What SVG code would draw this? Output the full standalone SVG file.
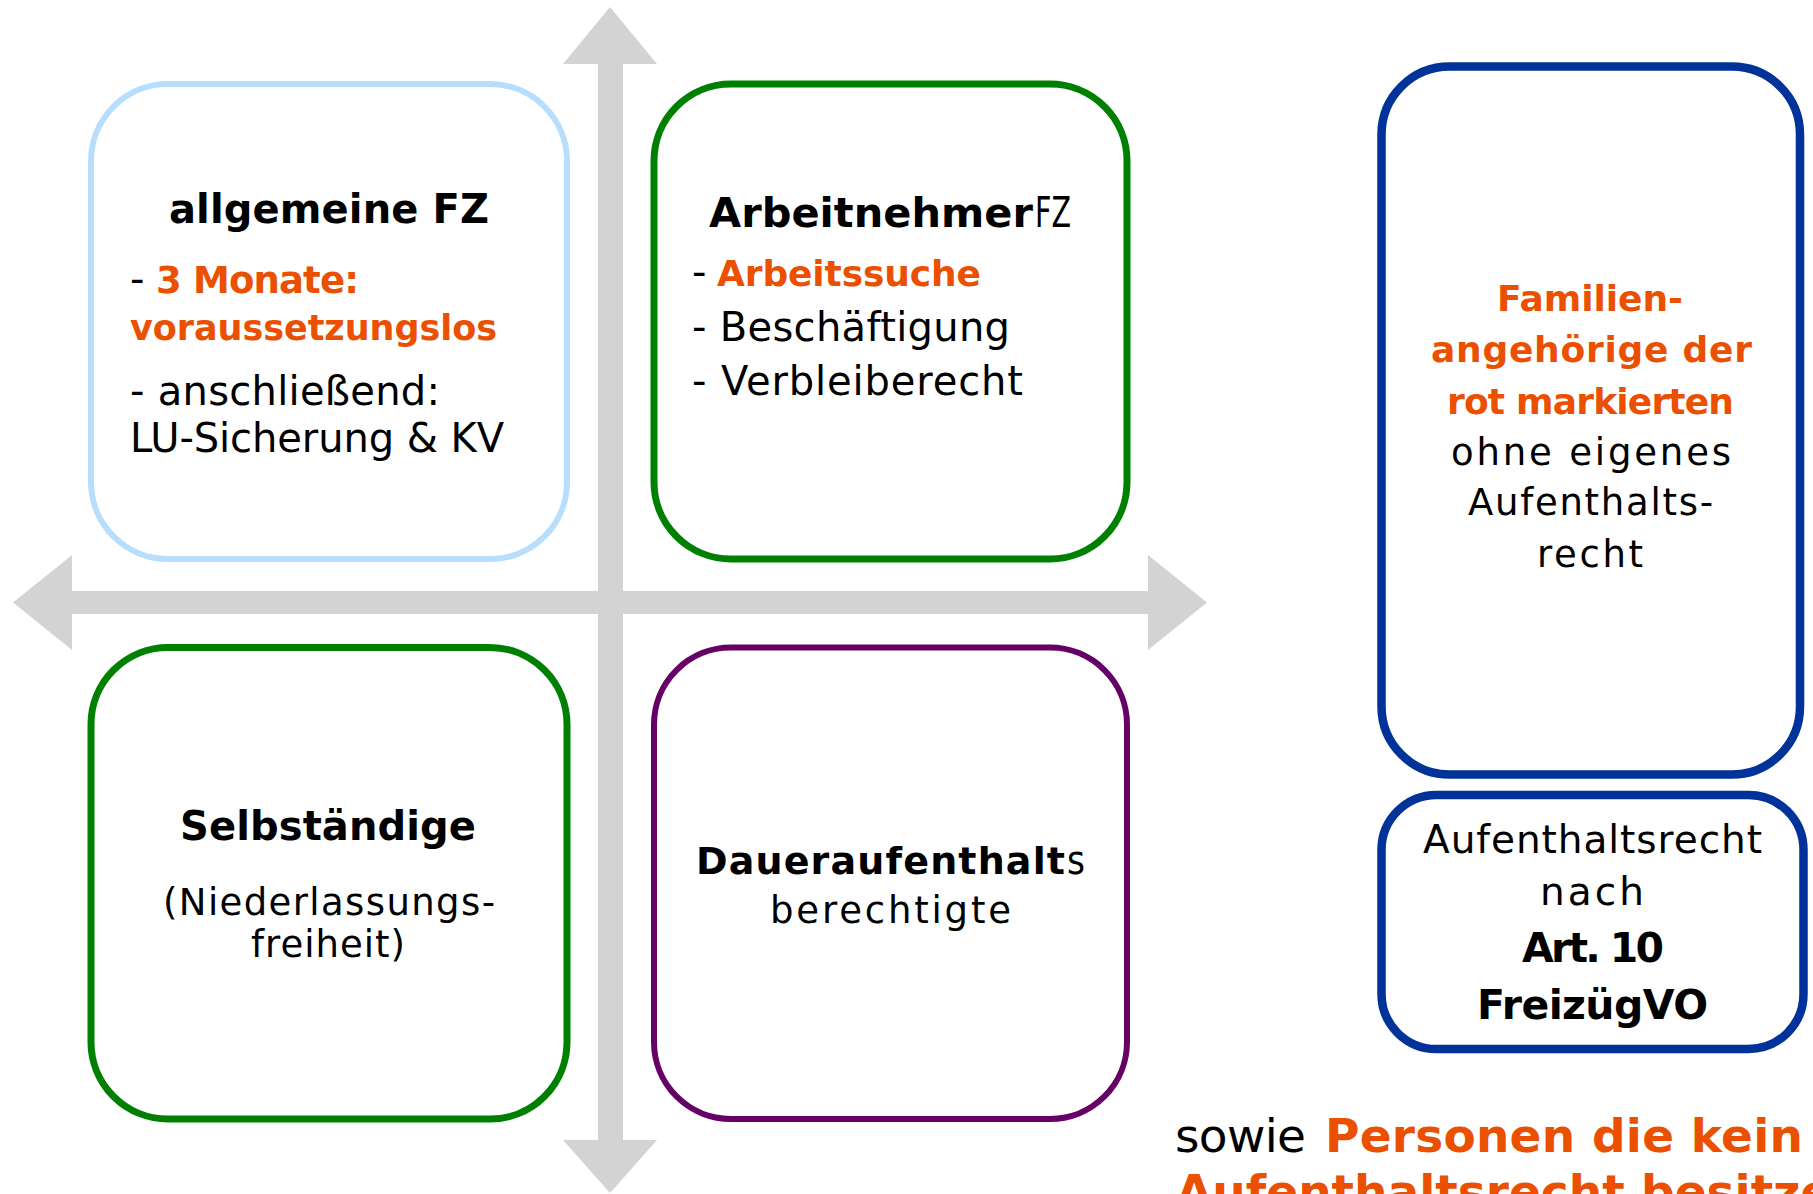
<svg xmlns="http://www.w3.org/2000/svg" width="1813" height="1194" viewBox="0 0 1813 1194">
  <style>
    .t { font-family: "DejaVu Sans", "Liberation Sans", sans-serif; fill: #000; }
    .b { font-weight: bold; }
    .o { fill: #ea5000; }
    .box { fill: #fff; }
    .axis { fill: #d3d3d3; }
  </style>
  <rect width="1813" height="1194" fill="#fff"/>

  <!-- crossed double-headed axes -->
  <g id="axes">
    <polygon class="axis" points="13,602.5 72,555 72,591 1148,591 1148,555 1207,602.5 1148,650 1148,614 72,614 72,650"/>
    <polygon class="axis" points="610,7 657,64 623,64 623,1140 657,1140 610,1193 563,1140 598,1140 598,64 563,64"/>
  </g>

  <!-- top-left quadrant -->
  <g id="allgemeine-fz">
    <rect class="box" x="91" y="84" width="476" height="475" rx="77" stroke="#b8defd" stroke-width="6"/>
    <text class="t b" x="169" y="223" font-size="40" textLength="320" lengthAdjust="spacing">allgemeine FZ</text>
    <text class="t" x="130" y="293" font-size="40">-</text>
    <text class="t b o" x="156" y="293" font-size="37" textLength="203" lengthAdjust="spacing">3 Monate:</text>
    <text class="t b o" x="130" y="340" font-size="35" textLength="367" lengthAdjust="spacing">voraussetzungslos</text>
    <text class="t" x="130" y="405" font-size="40" textLength="310" lengthAdjust="spacing">- anschließend:</text>
    <text class="t" x="130" y="452" font-size="40" textLength="374" lengthAdjust="spacing">LU-Sicherung &amp; KV</text>
  </g>

  <!-- top-right quadrant -->
  <g id="arbeitnehmer-fz">
    <rect class="box" x="654" y="84" width="473" height="475" rx="77" stroke="#008000" stroke-width="7"/>
    <text class="t b" x="709" y="227" font-size="41.5" textLength="324" lengthAdjust="spacing">Arbeitnehmer</text>
    <text class="t" x="1035" y="227" font-size="43" textLength="36" lengthAdjust="spacingAndGlyphs">FZ</text>
    <text class="t" x="692" y="286" font-size="40">-</text>
    <text class="t b o" x="717" y="286" font-size="36" textLength="264" lengthAdjust="spacing">Arbeitssuche</text>
    <text class="t" x="692" y="341" font-size="40" textLength="318" lengthAdjust="spacing">- Beschäftigung</text>
    <text class="t" x="692" y="395" font-size="40" textLength="331" lengthAdjust="spacing">- Verbleiberecht</text>
  </g>

  <!-- bottom-left quadrant -->
  <g id="selbstaendige">
    <rect class="box" x="91" y="647.5" width="476" height="471.5" rx="77" stroke="#008000" stroke-width="7"/>
    <text class="t b" x="180" y="840" font-size="40" textLength="296" lengthAdjust="spacing">Selbständige</text>
    <text class="t" x="163" y="915" font-size="37" textLength="332" lengthAdjust="spacing">(Niederlassungs-</text>
    <text class="t" x="251" y="957" font-size="37" textLength="154" lengthAdjust="spacing">freiheit)</text>
  </g>

  <!-- bottom-right quadrant -->
  <g id="daueraufenthalt">
    <rect class="box" x="654" y="647.5" width="473" height="471.5" rx="77" stroke="#660066" stroke-width="6"/>
    <text class="t b" x="696" y="874" font-size="38" textLength="369" lengthAdjust="spacing">Daueraufenthalt</text>
    <text class="t" x="1067" y="874" font-size="40" textLength="18" lengthAdjust="spacingAndGlyphs">s</text>
    <text class="t" x="770" y="923" font-size="37" textLength="241" lengthAdjust="spacing">berechtigte</text>
  </g>

  <!-- family members column -->
  <g id="familienangehoerige">
    <rect class="box" x="1381.5" y="66.5" width="418.5" height="708" rx="68" stroke="#003399" stroke-width="8.5"/>
    <text class="t b o" x="1497" y="311" font-size="36" textLength="186" lengthAdjust="spacing">Familien-</text>
    <text class="t b o" x="1431" y="362" font-size="36" textLength="321" lengthAdjust="spacing">angehörige der</text>
    <text class="t b o" x="1447" y="414" font-size="36" textLength="287" lengthAdjust="spacing">rot markierten</text>
    <text class="t" x="1451" y="465" font-size="37" textLength="280" lengthAdjust="spacing">ohne eigenes</text>
    <text class="t" x="1468" y="515" font-size="37" textLength="245" lengthAdjust="spacing">Aufenthalts-</text>
    <text class="t" x="1537" y="567" font-size="37" textLength="106" lengthAdjust="spacing">recht</text>
  </g>

  <g id="art10">
    <rect class="box" x="1381.5" y="795" width="422" height="254" rx="55" stroke="#003399" stroke-width="8.5"/>
    <text class="t" x="1423" y="853" font-size="39" textLength="339" lengthAdjust="spacing">Aufenthaltsrecht</text>
    <text class="t" x="1540" y="905" font-size="39" textLength="104" lengthAdjust="spacing">nach</text>
    <text class="t b" x="1522" y="962" font-size="41" textLength="142" lengthAdjust="spacing">Art. 10</text>
    <text class="t b" x="1477" y="1019" font-size="41" textLength="231" lengthAdjust="spacing">FreizügVO</text>
  </g>

  <!-- footnote running off the lower edge -->
  <g id="footnote">
    <text class="t" x="1175" y="1152" font-size="47" textLength="131" lengthAdjust="spacing">sowie</text>
    <text class="t b o" x="1325" y="1152" font-size="47" textLength="478" lengthAdjust="spacing">Personen die kein</text>
    <text class="t b o" x="1176" y="1208" font-size="47">Aufenthaltsrecht besitze</text>
  </g>
</svg>
